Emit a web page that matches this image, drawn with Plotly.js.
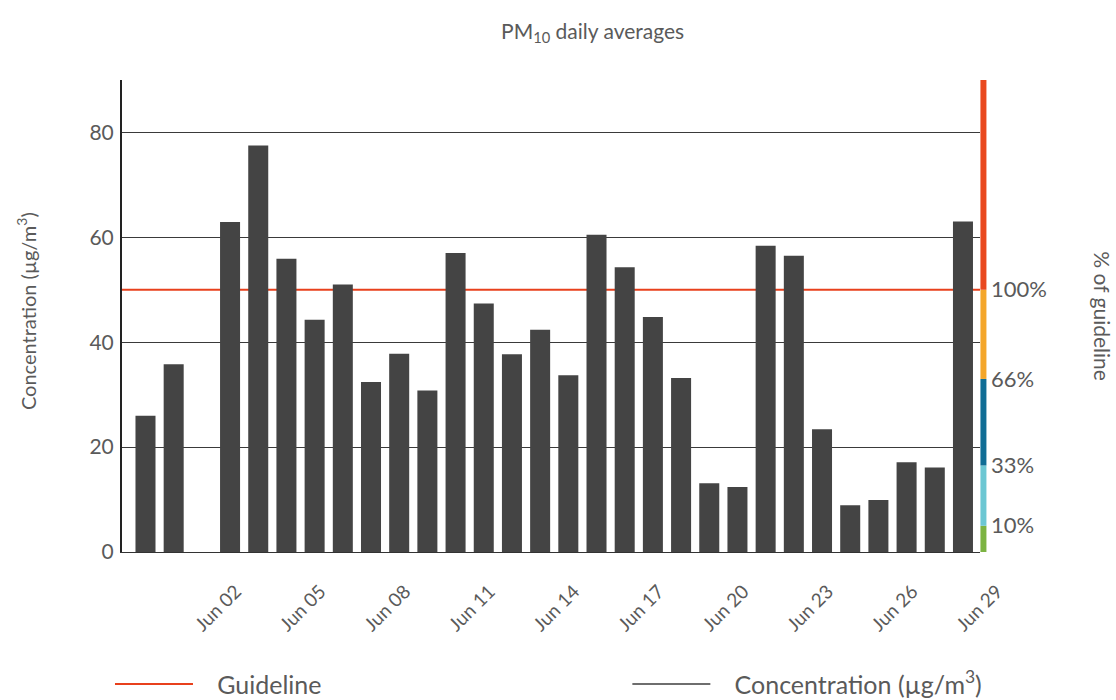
<!DOCTYPE html>
<html>
<head>
<meta charset="utf-8">
<script src="https://cdn.plot.ly/plotly-3.0.1.min.js"></script>
<style>
  html, body { margin: 0; padding: 0; background: #fff; }
  #chart { width: 1116px; height: 700px; }
</style>
</head>
<body>
<div id="chart"></div>
<script>
  // daily PM10 averages, Jun 02 has no reading
  const days = [
    "2023-05-31", "2023-06-01", "2023-06-02", "2023-06-03", "2023-06-04",
    "2023-06-05", "2023-06-06", "2023-06-07", "2023-06-08", "2023-06-09",
    "2023-06-10", "2023-06-11", "2023-06-12", "2023-06-13", "2023-06-14",
    "2023-06-15", "2023-06-16", "2023-06-17", "2023-06-18", "2023-06-19",
    "2023-06-20", "2023-06-21", "2023-06-22", "2023-06-23", "2023-06-24",
    "2023-06-25", "2023-06-26", "2023-06-27", "2023-06-28", "2023-06-29"
  ];
  const concentration = [
    26, 35.8, null, 62.9, 77.5,
    55.9, 44.3, 51, 32.4, 37.8,
    30.8, 57, 47.4, 37.7, 42.4,
    33.7, 60.5, 54.3, 44.8, 33.2,
    13.1, 12.4, 58.4, 56.5, 23.4,
    8.9, 9.9, 17.1, 16.1, 63
  ];
  const guideline = 50;

  // colour bands on the right edge (in µg/m³), with their % labels
  const bandEdges = [0, 5, 16.5, 33, 50, 90];
  const bandColors = ["#7cb342", "#6cc7d3", "#0f6d95", "#f4a62a", "#e9481f"];
  const pctTicks = [5, 16.5, 33, 50];
  const pctLabels = ["10%", "33%", "66%", "100%"];

  const FONT = "Lato, 'Open Sans', sans-serif";
  const TXT = "#5a5a5a";
  const PAD = "\u00a0\u00a0\u00a0";

  const bars = {
    type: "bar",
    x: days,
    y: concentration,
    marker: { color: "#444444", line: { width: 0 } },
    showlegend: false,
    hoverinfo: "x+y"
  };

  // legend entry for the concentration series (kept off the visible range)
  const concLegend = {
    type: "scatter",
    mode: "lines",
    x: days,
    y: concentration,
    yaxis: "y3",
    name: PAD + "Concentration (µg/m<sup>3</sup>)",
    line: { color: "#6e6e6e", width: 2 },
    legend: "legend2",
    hoverinfo: "skip"
  };

  // trace on the % axis so that axis gets drawn
  const pctAxisTrace = {
    type: "scatter",
    mode: "lines",
    x: days,
    y: concentration,
    yaxis: "y2",
    line: { width: 0, color: "rgba(0,0,0,0)" },
    showlegend: false,
    hoverinfo: "skip"
  };

  const shapes = [{
    type: "line",
    xref: "paper", x0: 0, x1: 1,
    yref: "y", y0: guideline, y1: guideline,
    line: { color: "#e8401c", width: 2 },
    layer: "between",
    showlegend: true,
    name: PAD + "Guideline",
    legend: "legend"
  }];
  for (let i = 0; i < bandColors.length; i++) {
    shapes.push({
      type: "line",
      xref: "paper", x0: 1.004, x1: 1.004,
      yref: "y", y0: bandEdges[i], y1: bandEdges[i + 1],
      line: { color: bandColors[i], width: 6 },
      layer: "above"
    });
  }

  const legendBase = {
    orientation: "h",
    xanchor: "left",
    y: -0.28, yanchor: "middle",
    itemwidth: 78,
    font: { size: 25, color: TXT },
    bgcolor: "rgba(0,0,0,0)"
  };

  const layout = {
    width: 1116,
    height: 700,
    paper_bgcolor: "#fff",
    plot_bgcolor: "#fff",
    font: { family: FONT, color: TXT, size: 15 },
    margin: { l: 122, r: 136, t: 80, b: 148, autoexpand: false },
    title: {
      text: "PM<sub>10</sub> daily averages",
      x: 0.531, xanchor: "center",
      y: 0.955, yanchor: "middle",
      font: { size: 21, color: TXT }
    },
    bargap: 0.29,
    xaxis: {
      type: "date",
      range: ["2023-05-30 04:00", "2023-06-29 14:30"],
      tick0: "2023-06-02",
      dtick: 3 * 86400000,
      tickformat: "%b %d",
      tickangle: -45,
      ticklabelshift: 34,
      ticklabelstandoff: 20,
      tickfont: { size: 19, color: TXT },
      showgrid: false,
      zeroline: false,
      showline: true,
      linecolor: "#333",
      linewidth: 1,
      ticks: "",
      fixedrange: true
    },
    yaxis: {
      range: [0, 90],
      tickvals: [0, 20, 40, 60, 80],
      showgrid: true,
      gridcolor: "#3a3a3a",
      gridwidth: 1,
      zeroline: false,
      showline: true,
      linecolor: "#222",
      linewidth: 2,
      ticks: "",
      ticklabelstandoff: 2,
      tickfont: { size: 21, color: TXT },
      fixedrange: true
    },
    yaxis2: {
      overlaying: "y",
      side: "right",
      range: [0, 90],
      tickvals: pctTicks,
      ticktext: pctLabels,
      showgrid: false,
      zeroline: false,
      showline: false,
      ticks: "",
      ticklabelstandoff: 10,
      tickfont: { size: 22, color: TXT },
      fixedrange: true
    },
    yaxis3: {
      overlaying: "y",
      range: [1000, 2000],
      visible: false,
      fixedrange: true
    },
    shapes: shapes,
    annotations: [
      {
        text: "Concentration (µg/m<sup>3</sup>)",
        xref: "paper", yref: "paper",
        x: -0.111, y: 0.51,
        xanchor: "center", yanchor: "middle",
        textangle: -90, showarrow: false,
        font: { size: 20, color: TXT }
      },
      {
        text: "% of guideline",
        xref: "paper", yref: "paper",
        x: 1.143, y: 0.5,
        xanchor: "center", yanchor: "middle",
        textangle: 90, showarrow: false,
        font: { size: 21, color: TXT }
      }
    ],
    legend: Object.assign({}, legendBase, { x: -0.014 }),
    legend2: Object.assign({}, legendBase, { x: 0.589 }),
    hovermode: false
  };

  Plotly.newPlot("chart", [bars, pctAxisTrace, concLegend], layout, { displayModeBar: false, staticPlot: true });
</script>
</body>
</html>
